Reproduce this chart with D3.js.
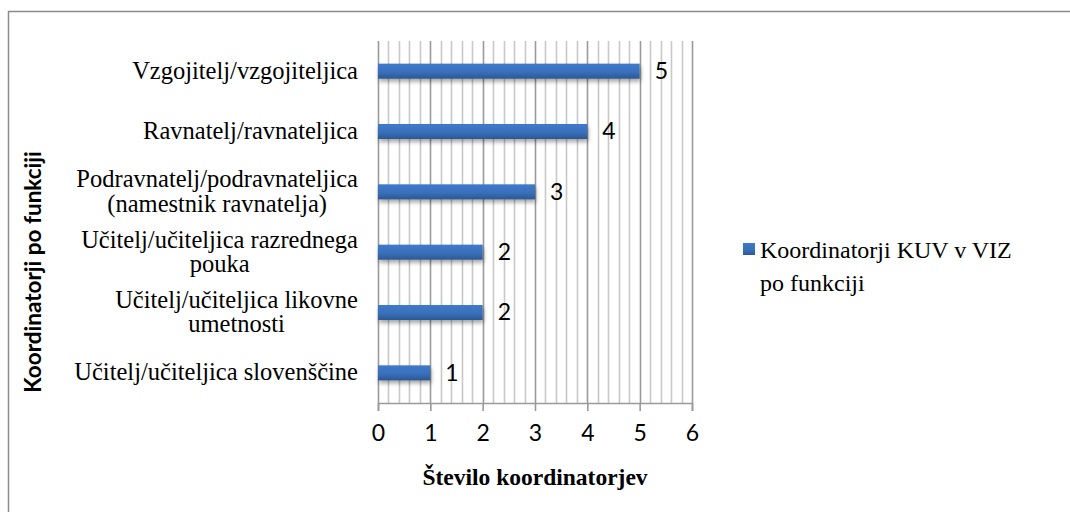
<!DOCTYPE html>
<html>
<head>
<meta charset="utf-8">
<script src="https://cdn.jsdelivr.net/npm/d3@7"></script>
<style>
  html, body { margin: 0; padding: 0; background: #fff; }
  svg { display: block; }
  .serif { font-family: "Liberation Serif", "Times New Roman", Tinos, "DejaVu Serif", serif; }
  .sans { font-family: Lato, "Open Sans", sans-serif; }
</style>
</head>
<body>
<svg id="chart" width="1070" height="512"></svg>
<script>
// ---- Data ----
const categories = [
  ["Vzgojitelj/vzgojiteljica"],
  ["Ravnatelj/ravnateljica"],
  ["Podravnatelj/podravnateljica", "(namestnik ravnatelja)"],
  ["Učitelj/učiteljica razrednega", "pouka"],
  ["Učitelj/učiteljica likovne", "umetnosti"],
  ["Učitelj/učiteljica slovenščine"]
];
const values = [5, 4, 3, 2, 2, 1];
const xTicks = [0, 1, 2, 3, 4, 5, 6];
const seriesName = ["Koordinatorji KUV v VIZ", "po funkciji"];
const xTitle = "Število koordinatorjev";
const yTitle = "Koordinatorji po funkciji";

// ---- Layout ----
const svg = d3.select("#chart");
const plot = { left: 378, right: 692, top: 41, bottom: 403 };

const x = d3.scaleLinear().domain([0, 6]).range([plot.left, plot.right]);
const y = d3.scaleBand().domain(d3.range(categories.length))
  .range([plot.top, plot.bottom]).paddingInner(0).paddingOuter(0);

// outer border (chart area frame)
svg.append("rect").attr("x", 8.5).attr("y", 11.5).attr("width", 1100).attr("height", 600)
  .attr("fill", "none").attr("stroke", "#8c8c8c").attr("stroke-width", 1.5);

// defs
const defs = svg.append("defs");
const grad = defs.append("linearGradient").attr("id", "barGrad")
  .attr("x1", 0).attr("y1", 0).attr("x2", 0).attr("y2", 1);
grad.append("stop").attr("offset", "0%").attr("stop-color", "#3f7acb");
grad.append("stop").attr("offset", "55%").attr("stop-color", "#3a70ba");
grad.append("stop").attr("offset", "100%").attr("stop-color", "#2b5896");
const blur = defs.append("filter").attr("id", "shadow")
  .attr("x", "-10%").attr("y", "-50%").attr("width", "120%").attr("height", "250%");
blur.append("feGaussianBlur").attr("stdDeviation", 2.2);

// minor gridlines
const minor = d3.range(0, 6.0001, 0.2).filter(v => Math.abs(v - Math.round(v)) > 1e-6);
svg.append("g").selectAll("line").data(minor).join("line")
  .attr("x1", d => Math.round(x(d)) + 0.5).attr("x2", d => Math.round(x(d)) + 0.5)
  .attr("y1", plot.top).attr("y2", plot.bottom)
  .attr("stroke", "#c8c8c8").attr("stroke-width", 1.6);

// major gridlines
svg.append("g").selectAll("line").data(xTicks).join("line")
  .attr("x1", d => Math.round(x(d)) + 0.5).attr("x2", d => Math.round(x(d)) + 0.5)
  .attr("y1", plot.top).attr("y2", plot.bottom)
  .attr("stroke", "#9a9a9a").attr("stroke-width", 1.6);

// x axis
const xAxis = d3.axisBottom(x).tickValues(xTicks).tickFormat(d3.format("d"))
  .tickSize(8).tickPadding(14);
const gx = svg.append("g").attr("transform", `translate(0,${plot.bottom})`).call(xAxis);
gx.attr("font-family", null).attr("font-size", null);
gx.select(".domain").attr("stroke", "#9a9a9a").attr("stroke-width", 1.6);
gx.selectAll(".tick line").attr("stroke", "#9a9a9a").attr("stroke-width", 1.6);
gx.selectAll(".tick text").attr("class", "sans").attr("font-size", 23)
  .attr("fill", "#000");

// bars
const barH = 15;
const gBars = svg.append("g");
gBars.selectAll("rect.sh").data(values).join("rect").attr("class", "sh")
  .attr("x", x(0) + 1).attr("y", (d, i) => y(i) + y.bandwidth() / 2 - barH / 2 + 3)
  .attr("width", d => x(d) - x(0)).attr("height", barH)
  .attr("fill", "#000").attr("opacity", 0.35).attr("filter", "url(#shadow)");
gBars.selectAll("rect.bar").data(values).join("rect").attr("class", "bar")
  .attr("x", x(0)).attr("y", (d, i) => y(i) + y.bandwidth() / 2 - barH / 2)
  .attr("width", d => x(d) - x(0)).attr("height", barH)
  .attr("fill", "url(#barGrad)");

// data labels
svg.append("g").selectAll("text").data(values).join("text")
  .attr("class", "sans")
  .attr("x", d => x(d) + 15).attr("y", (d, i) => y(i) + y.bandwidth() / 2 + 2)
  .attr("dominant-baseline", "middle")
  .attr("font-size", 23).attr("fill", "#000")
  .text(d => d);

// category labels
const lineH = 24.5;
const labelRight = 358;
categories.forEach((lines, i) => {
  const g = svg.append("g");
  const cy = y(i) + y.bandwidth() / 2 + 2;
  const texts = lines.map((ln, j) => g.append("text")
    .attr("class", "serif").attr("font-size", 24.5).attr("fill", "#000")
    .attr("text-anchor", "middle")
    .attr("y", cy + (j - (lines.length - 1) / 2) * lineH)
    .attr("dominant-baseline", "middle")
    .text(ln));
  const maxW = d3.max(texts, t => t.node().getComputedTextLength());
  texts.forEach(t => t.attr("x", labelRight - maxW / 2));
});

// axis titles
svg.append("text").attr("class", "serif")
  .attr("x", 535).attr("y", 485)
  .attr("text-anchor", "middle").attr("font-weight", "bold")
  .attr("font-size", 23.5).attr("fill", "#000").text(xTitle);
svg.append("text").attr("class", "sans")
  .attr("transform", `translate(41,272) rotate(-90)`)
  .attr("text-anchor", "middle").attr("font-weight", "bold")
  .attr("font-size", 22.5).attr("fill", "#000").text(yTitle);

// legend
svg.append("rect").attr("x", 743).attr("y", 243).attr("width", 12).attr("height", 12)
  .attr("fill", "url(#barGrad)");
svg.append("g").selectAll("text").data(seriesName).join("text")
  .attr("class", "serif")
  .attr("x", 760).attr("y", (d, i) => 258 + i * 33)
  .attr("font-size", 24).attr("fill", "#000")
  .text(d => d);
</script>
</body>
</html>
